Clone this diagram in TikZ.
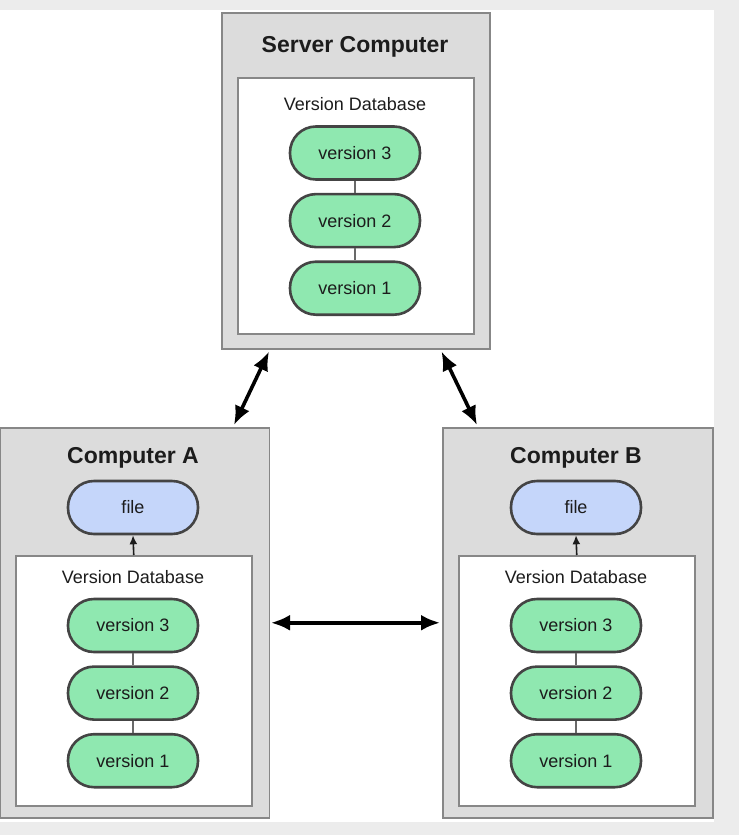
\documentclass[tikz,border=0pt]{standalone}
\usepackage{fontspec}
\setmainfont{Liberation Sans}
\usetikzlibrary{arrows.meta,positioning,calc}
\definecolor{FrameGray}{RGB}{236,236,236}
\definecolor{BoxGray}{RGB}{220,220,220}
\definecolor{EdgeGray}{RGB}{135,135,135}
\definecolor{PillEdge}{RGB}{68,68,68}
\definecolor{VersionGreen}{RGB}{143,232,176}
\definecolor{FileBlue}{RGB}{197,214,250}
\definecolor{InkDark}{RGB}{28,28,28}

\begin{document}
\begin{tikzpicture}[x=1pt,y=-1pt,
      machine/.style={draw=EdgeGray,fill=BoxGray,line width=1.5pt,
        anchor=north west,inner sep=0pt},
      dbbox/.style={draw=EdgeGray,fill=white,line width=1.5pt,
        anchor=north west,inner sep=0pt},
      pill/.style={draw=PillEdge,fill=VersionGreen,line width=2.6pt,
        rounded corners=26pt,minimum width=130pt,minimum height=53pt,
        font=\fontsize{18}{20}\selectfont,text=InkDark,inner sep=0pt},
      filepill/.style={pill,fill=FileBlue},
      title/.style={font=\fontsize{23}{26}\selectfont\bfseries,text=InkDark,anchor=base},
      dblabel/.style={font=\fontsize{18}{20}\selectfont,text=InkDark,anchor=base},
      link/.style={draw=PillEdge!80,line width=1.4pt},
      fetch/.style={-{Latex[length=9pt,width=8pt]},line width=1.6pt,draw=InkDark},
      sync/.style={{Latex[length=19pt,width=16pt]}-{Latex[length=19pt,width=16pt]},
        line width=3.6pt,draw=black}
    ]
      \useasboundingbox (0,0) rectangle (739,835);
      \fill[FrameGray] (0,0) rectangle (739,835);
      \fill[white] (0,10) rectangle (714,822);

      % server
      \node[machine,minimum width=268pt,minimum height=336pt] (server) at (221,12) {};
      \node[title] (servertitle) at (355,52) {Server Computer};
      \node[dbbox,minimum width=236pt,minimum height=256pt] (dbS) at (237,77) {};
      \node[dblabel] (dbSlabel) at (355,110) {Version Database};
      \node[pill] (s3) at (355,153) {version 3};
      \node[pill,below=12pt of s3] (s2) {version 2};
      \node[pill,below=12pt of s2] (s1) {version 1};
      \draw[link] (s3) -- (s2);
      \draw[link] (s2) -- (s1);

      % computer A
      \node[machine,minimum width=269pt,minimum height=390pt] (compA) at (-0.5,427) {};
      \node[title] (titleA) at (133,463) {Computer A};
      \node[filepill] (fileA) at (133,507.5) {file};
      \node[dbbox,minimum width=236pt,minimum height=250pt] (dbA) at (15,555) {};
      \node[dblabel] (dbAlabel) at (133,583) {Version Database};
      \node[pill] (a3) at (133,625.5) {version 3};
      \node[pill,below=12pt of a3] (a2) {version 2};
      \node[pill,below=12pt of a2] (a1) {version 1};
      \draw[link] (a3) -- (a2);
      \draw[link] (a2) -- (a1);
      \draw[fetch] (dbA.north) -- (fileA.south);

      % computer B
      \node[machine,minimum width=270pt,minimum height=390pt] (compB) at (442,427) {};
      \node[title] (titleB) at (576,463) {Computer B};
      \node[filepill] (fileB) at (576,507.5) {file};
      \node[dbbox,minimum width=236pt,minimum height=250pt] (dbB) at (458,555) {};
      \node[dblabel] (dbBlabel) at (576,583) {Version Database};
      \node[pill] (b3) at (576,625.5) {version 3};
      \node[pill,below=12pt of b3] (b2) {version 2};
      \node[pill,below=12pt of b2] (b1) {version 1};
      \draw[link] (b3) -- (b2);
      \draw[link] (b2) -- (b1);
      \draw[fetch] (dbB.north) -- (fileB.south);

      % sharing
      \draw[sync] ([xshift=48pt,yshift=-2pt]server.south west)
        -- ([xshift=-36pt,yshift=2pt]compA.north east);
      \draw[sync] ([xshift=-49pt,yshift=-2pt]server.south east)
        -- ([xshift=35pt,yshift=2pt]compB.north west);
      \draw[sync] ([xshift=1pt]compA.east) -- ([xshift=-2pt]compB.west);
    \end{tikzpicture}
\end{document}
